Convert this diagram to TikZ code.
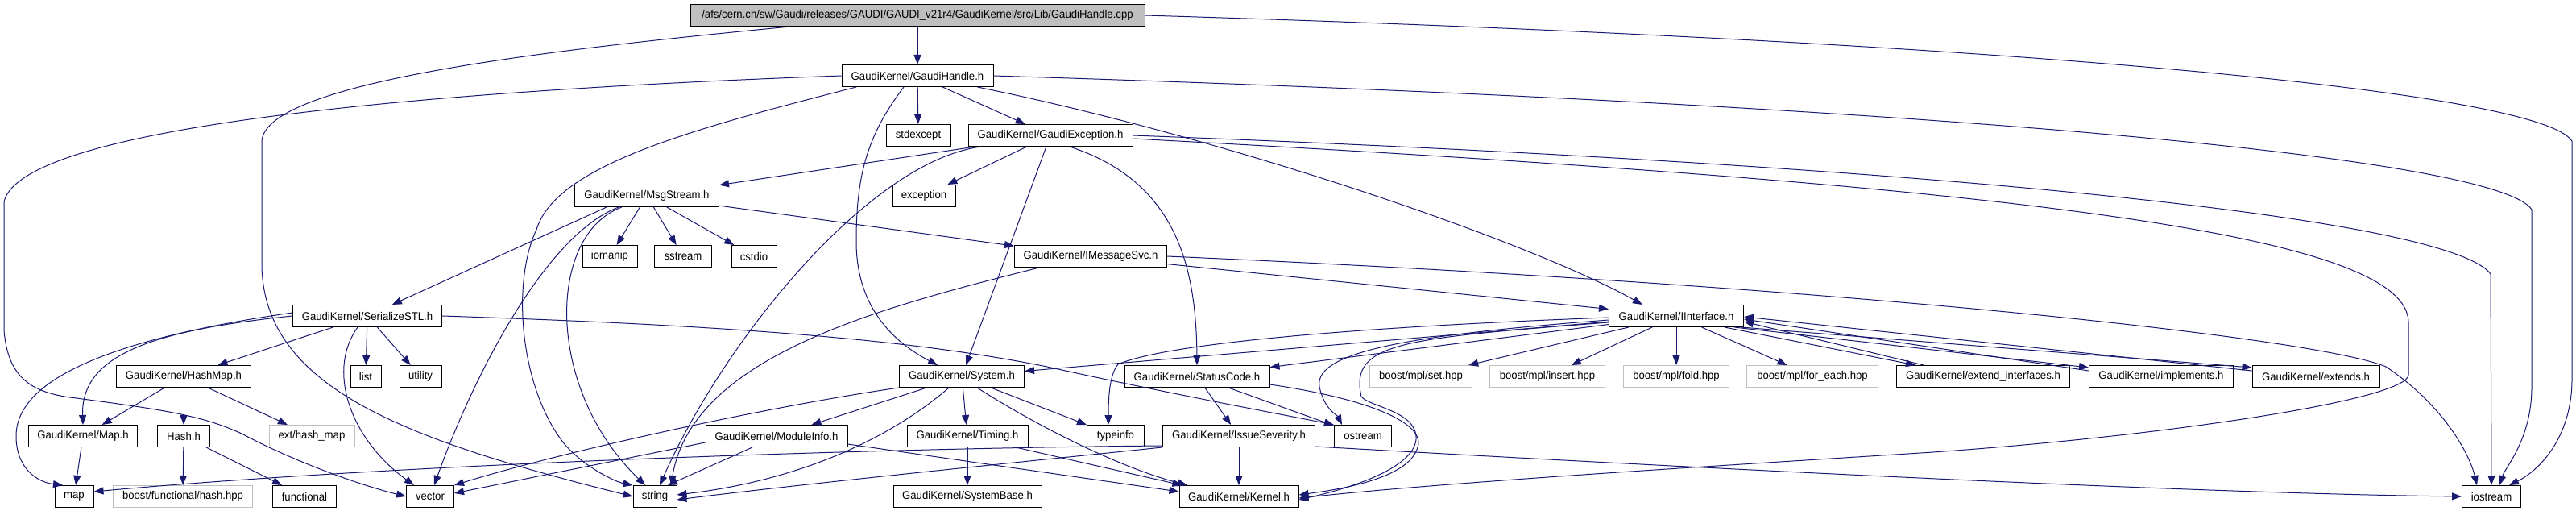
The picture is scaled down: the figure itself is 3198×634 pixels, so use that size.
\documentclass[tikz,border=0pt]{standalone}
\usepackage{fontspec}
\setmainfont{Liberation Sans}[FakeStretch=0.94]
\usepackage{xcolor}
\usepackage{tikz}
\usetikzlibrary{arrows.meta}
\definecolor{edgeblue}{HTML}{191970}
\definecolor{extgray}{HTML}{BFBFBF}

\begin{document}
\begin{tikzpicture}[
  x=1pt, y=-1pt, font=\fontsize{14}{16}\selectfont,
  inc/.style={draw, line width=1pt, fill=white, minimum height=27pt, inner sep=0pt},
  ext/.style={inc, draw=extgray},
  src/.style={inc, fill=extgray},
  arr/.style={-{Triangle[length=12pt,width=9pt]}, draw=edgeblue, line width=1pt}]
  \useasboundingbox (0,0) rectangle (3198,634);
  % --- source file and its header ---
  \node[src, minimum width=564pt] (cpp) at (1139,19) {/afs/cern.ch/sw/Gaudi/releases/GAUDI/GAUDI\_v21r4/GaudiKernel/src/Lib/GaudiHandle.cpp};
  \node[inc, minimum width=188pt] (gh)   at (1139,94)  {GaudiKernel/GaudiHandle.h};
  % --- rows 2-4 ---
  \node[inc, minimum width=80pt]  (stdx) at (1140,168) {stdexcept};
  \node[inc, minimum width=204pt] (gexc) at (1304,168) {GaudiKernel/GaudiException.h};
  \node[inc, minimum width=179pt] (msg)  at (803,243)  {GaudiKernel/MsgStream.h};
  \node[inc, minimum width=78pt]  (excp) at (1147,243) {exception};
  \node[inc, minimum width=68pt]  (iom)  at (757,318)  {iomanip};
  \node[inc, minimum width=71pt]  (sst)  at (848,318)  {sstream};
  \node[inc, minimum width=56pt]  (cst)  at (936,318)  {cstdio};
  \node[inc, minimum width=189pt] (imsg) at (1354,318) {GaudiKernel/IMessageSvc.h};
  % --- row 5 ---
  \node[inc, minimum width=185pt] (sstl) at (456,392)  {GaudiKernel/SerializeSTL.h};
  \node[inc, minimum width=167pt] (iif)  at (2081,392) {GaudiKernel/IInterface.h};
  % --- row 6 ---
  \node[inc, minimum width=167pt] (hmap) at (228,467)  {GaudiKernel/HashMap.h};
  \node[inc, minimum width=38pt]  (lst)  at (454,467)  {list};
  \node[inc, minimum width=52pt]  (utl)  at (522,467)  {utility};
  \node[inc, minimum width=155pt] (sys)  at (1194,467) {GaudiKernel/System.h};
  \node[inc, minimum width=180pt] (stc)  at (1486,467) {GaudiKernel/StatusCode.h};
  \node[ext, minimum width=127pt] (mset) at (1764,467) {boost/mpl/set.hpp};
  \node[ext, minimum width=143pt] (mins) at (1921,467) {boost/mpl/insert.hpp};
  \node[ext, minimum width=131pt] (mfld) at (2081,467) {boost/mpl/fold.hpp};
  \node[ext, minimum width=163pt] (mfe)  at (2250,467) {boost/mpl/for\_each.hpp};
  \node[inc, minimum width=215pt] (eif)  at (2462,467) {GaudiKernel/extend\_interfaces.h};
  \node[inc, minimum width=179pt] (impl) at (2683,467) {GaudiKernel/implements.h};
  \node[inc, minimum width=158pt] (extd) at (2875,467) {GaudiKernel/extends.h};
  % --- row 7 ---
  \node[inc, minimum width=135pt] (gmap) at (103,541)  {GaudiKernel/Map.h};
  \node[inc, minimum width=65pt]  (hash) at (228,541)  {Hash.h};
  \node[ext, minimum width=106pt] (ehm)  at (387,541)  {ext/hash\_map};
  \node[inc, minimum width=176pt] (minf) at (964,541)  {GaudiKernel/ModuleInfo.h};
  \node[inc, minimum width=150pt] (tim)  at (1201,541) {GaudiKernel/Timing.h};
  \node[inc, minimum width=71pt]  (tinf) at (1385,541) {typeinfo};
  \node[inc, minimum width=189pt] (isev) at (1538,541) {GaudiKernel/IssueSeverity.h};
  \node[inc, minimum width=71pt]  (ostr) at (1692,541) {ostream};
  % --- row 8 ---
  \node[inc, minimum width=48pt]  (map)  at (92,616)   {map};
  \node[ext, minimum width=173pt] (bfh)  at (227,616)  {boost/functional/hash.hpp};
  \node[inc, minimum width=79pt]  (fnc)  at (378,616)  {functional};
  \node[inc, minimum width=59pt]  (vec)  at (534,616)  {vector};
  \node[inc, minimum width=54pt]  (str)  at (813,616)  {string};
  \node[inc, minimum width=184pt] (sbase) at (1201,616) {GaudiKernel/SystemBase.h};
  \node[inc, minimum width=148pt] (krn)  at (1538,616) {GaudiKernel/Kernel.h};
  \node[inc, minimum width=73pt]  (ios)  at (3093,616) {iostream};
  % --- GaudiHandle.cpp ---
  \draw[arr] (cpp) -- (gh);
  \draw[arr] ([xshift=-158pt]cpp.south) .. controls (700,60) and (330,100) .. (325,175) -- (325,330) .. controls (328,480) and (500,545) .. (str.west);
  \draw[arr] (cpp.east) .. controls (2450,50) and (3150,110) .. (3193,175) -- (3193,470) .. controls (3193,545) and (3150,585) .. ([xshift=22pt]ios.north);
  % --- GaudiHandle.h ---
  \draw[arr] (gh) -- (stdx);
  \draw[arr] (gh) -- (gexc);
  \draw[arr] ([xshift=-20pt]gh.south east) .. controls (1520,170) and (1900,300) .. ([xshift=-42pt]iif.north);
  \draw[arr] ([xshift=-17pt]gh.south) .. controls (1075,170) and (1063,220) .. (1063,300) .. controls (1063,390) and (1120,430) .. ([xshift=-30pt]sys.north);
  \draw[arr] ([xshift=-76pt]gh.south) .. controls (860,160) and (690,205) .. (666,285) .. controls (635,350) and (645,480) .. (700,550) .. controls (725,580) and (765,598) .. (str.north west);
  \draw[arr] (gh.west) .. controls (600,110) and (30,150) .. (5,250) -- (5,410) .. controls (10,470) and (40,488) .. (95,494) .. controls (200,508) and (250,515) .. (300,538) .. controls (360,570) and (440,600) .. (vec.west);
  \draw[arr] (gh.east) .. controls (2400,130) and (3100,195) .. (3143,260) -- (3143,480) .. controls (3143,545) and (3110,580) .. ([xshift=10pt]ios.north);
  % --- GaudiException.h ---
  \draw[arr] (gexc) -- (msg);
  \draw[arr] (gexc) -- (excp);
  \draw[arr] (gexc) -- (sys);
  \draw[arr] ([xshift=-86pt]gexc.south) .. controls (1080,200) and (900,420) .. ([xshift=6pt]str.north);
  \draw[arr] ([xshift=24pt]gexc.south) .. controls (1460,225) and (1485,330) .. (stc.north);
  \draw[arr] (gexc.east) .. controls (2400,205) and (3040,270) .. (3092,340) -- (ios.north);
  \draw[arr] ([yshift=-4pt]gexc.east) .. controls (2500,230) and (2990,290) .. (2990,400) -- (2990,465) .. controls (2990,495) and (2700,540) .. (2400,561) .. controls (2100,580) and (1800,598) .. ([yshift=-2pt]krn.east);
  % --- MsgStream.h ---
  \draw[arr] ([xshift=-50pt]msg.south) -- (sstl);
  \draw[arr] (msg) -- (iom);
  \draw[arr] (msg) -- (sst);
  \draw[arr] (msg) -- (cst);
  \draw[arr] (msg) -- (imsg);
  \draw[arr] ([xshift=-35pt]msg.south) .. controls (680,290) and (590,460) .. ([xshift=5pt]vec.north);
  \draw[arr] ([xshift=-31pt]msg.south) .. controls (680,290) and (675,480) .. ([xshift=-12pt]str.north);
  % --- IMessageSvc.h ---
  \draw[arr] (imsg) -- (iif);
  \draw[arr] ([xshift=-64pt]imsg.south) .. controls (1100,380) and (860,440) .. ([xshift=20pt]str.north);
  \draw[arr] (imsg.east) .. controls (2300,355) and (2880,420) .. (2962,455) .. controls (3030,500) and (3065,560) .. ([xshift=-18pt]ios.north);
  % --- SerializeSTL.h ---
  \draw[arr] (sstl) -- (hmap);
  \draw[arr] (sstl) -- (lst);
  \draw[arr] (sstl) -- (utl);
  \draw[arr] (sstl.west) .. controls (190,410) and (100,440) .. (gmap.north);
  \draw[arr] ([yshift=4pt]sstl.west) .. controls (140,420) and (20,470) .. (20,541) .. controls (20,580) and (45,598) .. ([xshift=-14pt]map.north);
  \draw[arr] ([xshift=-12pt]sstl.south) .. controls (405,460) and (435,545) .. ([xshift=-20pt]vec.north);
  \draw[arr] (sstl.east) .. controls (950,405) and (1150,425) .. (1300,455) .. controls (1450,488) and (1580,512) .. (ostr.north west);
  % --- HashMap.h, Map.h, Hash.h ---
  \draw[arr] (hmap) -- (gmap);
  \draw[arr] (hmap) -- (hash);
  \draw[arr] (hmap) -- (ehm);
  \draw[arr] (gmap) -- (map);
  \draw[arr] (hash) -- (bfh);
  \draw[arr] (hash) -- (fnc);
  % --- IInterface.h ---
  \draw[arr] (iif) -- (sys);
  \draw[arr] (iif) -- (stc);
  \draw[arr] ([yshift=-2pt]iif.west) .. controls (1700,405) and (1450,425) .. (1388,452) .. controls (1377,465) and (1376,495) .. ([xshift=-9pt]tinf.north);
  \draw[arr] ([yshift=-5pt]iif.west) .. controls (1760,415) and (1630,435) .. (1638,480) .. controls (1644,508) and (1660,515) .. ([xshift=-26pt]ostr.north);
  \draw[arr] ([yshift=-8pt]iif.west) .. controls (1740,420) and (1675,425) .. (1690,492) .. controls (1700,505) and (1760,510) .. (1758,545) .. controls (1755,580) and (1680,605) .. ([yshift=-4pt]krn.east);
  \draw[arr] (iif) -- (mset);
  \draw[arr] (iif) -- (mins);
  \draw[arr] (iif) -- (mfld);
  \draw[arr] (iif) -- (mfe);
  \draw[arr] ([xshift=-24pt]iif.south east) -- ([xshift=24pt]eif.north west);
  \draw[arr] ([xshift=-12pt]iif.south east) -- ([yshift=-3pt]impl.north west);
  \draw[arr] ([xshift=-4pt]iif.south east) -- ([yshift=-3pt]extd.north west);
  \draw[arr] ([xshift=34pt]eif.north west) -- ([yshift=-7pt]iif.east);
  \draw[arr] ([yshift=-7pt]impl.north west) -- ([yshift=-4pt]iif.east);
  \draw[arr] ([yshift=-7pt]extd.north west) -- ([yshift=-1pt]iif.east);
  % --- System.h ---
  \draw[arr] (sys.south west) .. controls (950,505) and (700,560) .. (vec.north east);
  \draw[arr] (sys) -- (minf);
  \draw[arr] ([xshift=-16pt]sys.south) .. controls (1110,540) and (1000,595) .. ([yshift=2pt]str.east);
  \draw[arr] (sys) -- (tim);
  \draw[arr] (sys) -- (tinf);
  \draw[arr] ([xshift=19pt]sys.south) .. controls (1290,530) and (1390,580) .. ([xshift=-64pt]krn.north);
  % --- StatusCode.h ---
  \draw[arr] (stc) -- (isev);
  \draw[arr] (stc) -- (ostr);
  \draw[arr] ([yshift=-10pt]stc.east) .. controls (1700,495) and (1770,525) .. (1760,555) .. controls (1750,590) and (1680,605) .. ([yshift=2pt]krn.east);
  % --- ModuleInfo.h, Timing.h, IssueSeverity.h ---
  \draw[arr] ([yshift=-8pt]minf.west) -- ([yshift=4pt]vec.east);
  \draw[arr] ([xshift=-30pt]minf.south) -- ([xshift=16pt]str.north);
  \draw[arr] ([yshift=-10pt]minf.east) -- ([yshift=6pt]krn.west);
  \draw[arr] (tim) -- (sbase);
  \draw[arr] ([xshift=60pt]tim.south) -- ([xshift=4pt]krn.north west);
  \draw[arr] ([yshift=-12pt]isev.west) .. controls (1100,556) and (500,575) .. ([yshift=6pt]map.east);
  \draw[arr] (isev.south west) .. controls (1250,575) and (1000,600) .. ([yshift=-4pt]str.east);
  \draw[arr] (isev) -- (krn);
  \draw[arr] ([yshift=-13pt]isev.east) .. controls (2000,575) and (2700,612) .. (ios.west);
\end{tikzpicture}
\end{document}
